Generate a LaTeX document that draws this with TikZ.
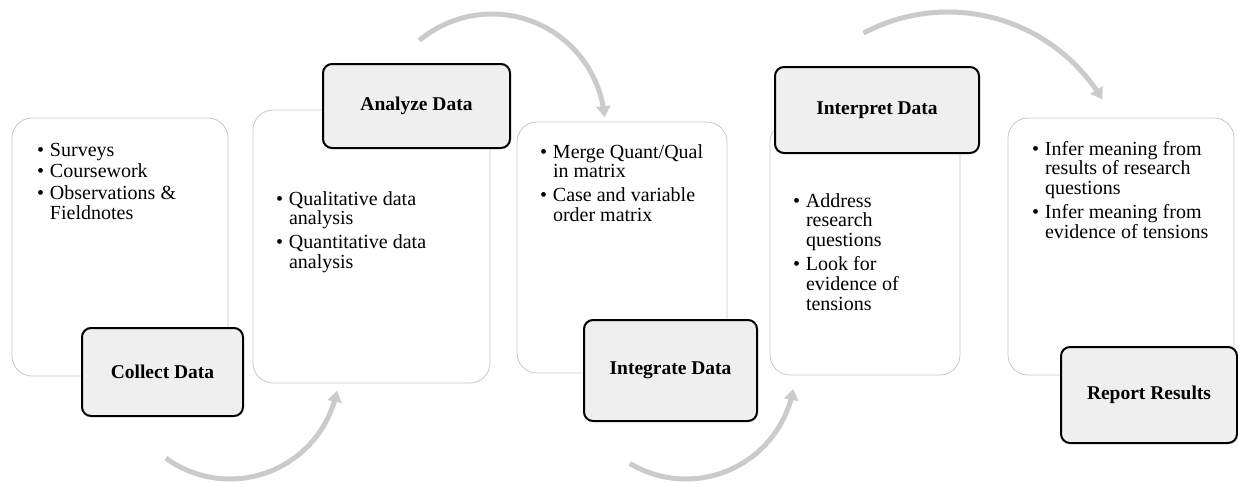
\documentclass[tikz,border=0pt]{standalone}
\usepackage{fontspec}
\setmainfont{Liberation Serif}
\usetikzlibrary{arrows.meta}
\definecolor{boxline}{HTML}{C8C8C8}
\definecolor{arrowgray}{HTML}{CBCBCB}
\definecolor{headfill}{HTML}{EFEFEF}
\newcommand{\bu}{\makebox[13pt][l]{\textbullet}}
\newcommand{\blist}[1]{\begin{tabular}[t]{@{}l@{}l@{}}#1\end{tabular}}
\begin{document}
\begin{tikzpicture}[x=1pt,y=-1pt,
  panel/.style={draw=boxline, line width=0.8pt, rounded corners=20pt, fill=white, anchor=north west, outer sep=0pt, inner sep=0pt},
  head/.style={draw=black, line width=2pt, rounded corners=9pt, fill=headfill, anchor=north west, outer sep=0pt, inner sep=0pt},
  headtext/.style={font=\fontsize{19.5}{22}\selectfont\bfseries},
  body/.style={anchor=base west, inner sep=0pt, outer sep=0pt, font=\fontsize{20}{19.7}\selectfont},
  flow/.style={draw=arrowgray, line width=5pt, -{Triangle[length=11pt,width=14pt]}}]
\useasboundingbox (0,0) rectangle (1238,483);
\renewcommand{\arraystretch}{1}
% panels
\node[panel, minimum width=216pt, minimum height=258pt] (p1) at (12,118) {};
\node[panel, minimum width=237pt, minimum height=273pt] (p2) at (253,110) {};
\node[panel, minimum width=210pt, minimum height=251pt] (p3) at (517,122) {};
\node[panel, minimum width=190pt, minimum height=253pt] (p4) at (770,122) {};
\node[panel, minimum width=226pt, minimum height=257pt] (p5) at (1008,118) {};
% bullet texts
\node[body] (b1) at (37,156) {\blist{\bu & Surveys\\[2pt] \bu & Coursework\\[2pt] \bu & Observations \&\\ & Fieldnotes}};
\node[body] (b2) at (276,205) {\blist{\bu & Qualitative data\\ & analysis\\[4pt] \bu & Quantitative data\\ & analysis}};
\node[body] (b3) at (540,158) {\blist{\bu & Merge Quant/Qual\\ & in matrix\\[4pt] \bu & Case and variable\\ & order matrix}};
\node[body] (b4) at (793,207) {\blist{\bu & Address\\ & research\\ & questions\\[4pt] \bu & Look for\\ & evidence of\\ & tensions}};
\node[body] (b5) at (1032,155) {\blist{\bu & Infer meaning from\\ & results of research\\ & questions\\[4pt] \bu & Infer meaning from\\ & evidence of tensions}};
% headers
\node[head, minimum width=161pt, minimum height=88pt] (h1) at (82,328) {};
\node[headtext] at (h1.center) {Collect Data};
\node[head, minimum width=187pt, minimum height=84pt] (h2) at (323,64) {};
\node[headtext] at (h2.center) {Analyze Data};
\node[head, minimum width=173pt, minimum height=101pt] (h3) at (584,320) {};
\node[headtext] at (h3.center) {Integrate Data};
\node[head, minimum width=204pt, minimum height=86pt] (h4) at (775,67) {};
\node[headtext] at (h4.center) {Interpret Data};
\node[head, minimum width=176pt, minimum height=96pt] (h5) at (1061,347) {};
\node[headtext] at (h5.center) {Report Results};
% curved arrows
\draw[flow] plot[domain=126:11, samples=60] ({230+109*cos(\x)},{370+109*sin(\x)});
\draw[flow] plot[domain=230:355, samples=60] ({492+113*cos(\x)},{127+113*sin(\x)});
\draw[flow] plot[domain=121:10, samples=60] ({686+109*cos(\x)},{370+109*sin(\x)});
\draw[flow] plot[domain=242:329, samples=60] ({948+180*cos(\x)},{192+180*sin(\x)});
\end{tikzpicture}
\end{document}
